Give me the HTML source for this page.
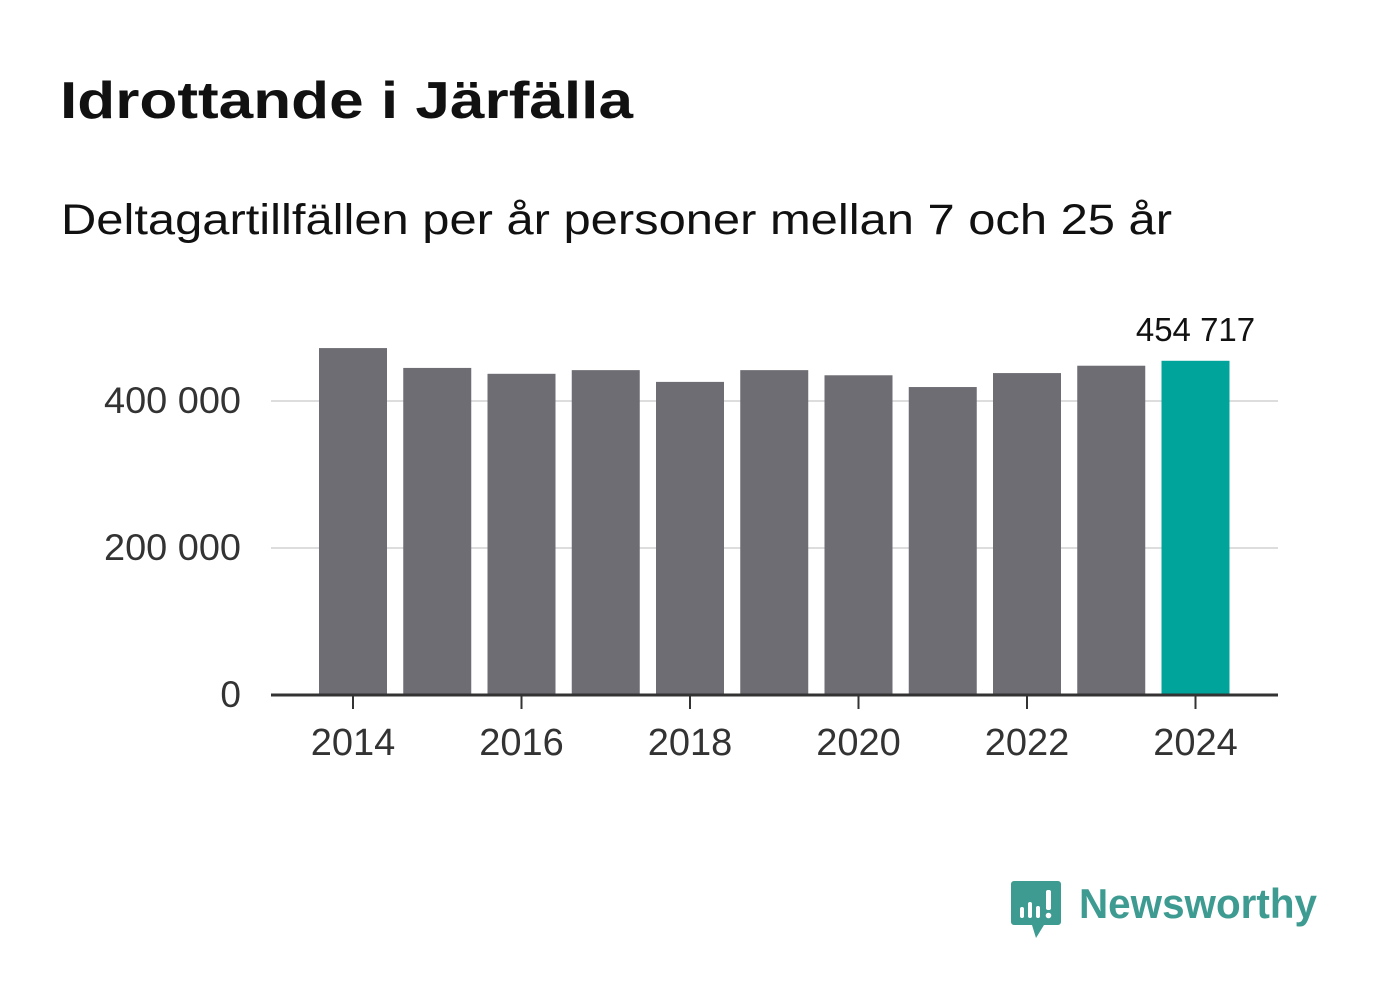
<!DOCTYPE html>
<html><head><meta charset="utf-8"><style>
html,body{margin:0;padding:0;background:#fff;}
svg{display:block;font-family:"Liberation Sans",sans-serif;}
</style></head><body>
<svg id="chart" width="1382" height="999">
<text x="60" y="118" font-size="52" font-weight="bold" fill="#111" textLength="573" lengthAdjust="spacingAndGlyphs">Idrottande i Järfälla</text>
<text x="61" y="234" font-size="43" fill="#111" textLength="1111" lengthAdjust="spacingAndGlyphs">Deltagartillfällen per år personer mellan 7 och 25 år</text>
<g id="grid"></g><g id="bars"></g><g id="axes"></g>
<g>
<path d="M1014 881 h44 a3 3 0 0 1 3 3 v38 a3 3 0 0 1 -3 3 h-14 l-8 13 l-4 -13 h-18 a3 3 0 0 1 -3 -3 v-38 a3 3 0 0 1 3 -3z" fill="#3e9b92"/>
<rect x="1020" y="907" width="4" height="11" rx="2" fill="#fff"/><rect x="1028" y="902" width="4" height="16" rx="2" fill="#fff"/><rect x="1036" y="906" width="4" height="12" rx="2" fill="#fff"/><rect x="1046" y="890" width="5" height="20" rx="2" fill="#fff"/><circle cx="1048.5" cy="915.5" r="2.8" fill="#fff"/>
<text x="1079" y="918" font-size="42" font-weight="bold" fill="#3e9b92" textLength="238" lengthAdjust="spacingAndGlyphs">Newsworthy</text>
</g>
</svg>
<script>
const years=[2014,2015,2016,2017,2018,2019,2020,2021,2022,2023,2024];
const values=[472000,445000,437000,442000,426000,442000,435000,419000,438000,448000,454717];
const yTicks=[0,200000,400000];
const yTickLabels=["0","200 000","400 000"];
const xTickYears=[2014,2016,2018,2020,2022,2024];
const NS="http://www.w3.org/2000/svg";
const y=v=>695-v*(294/400000);
const x=yr=>353+(yr-2014)*84.25;
function mk(tag,attrs,parent,txt){const e=document.createElementNS(NS,tag);for(const k in attrs)e.setAttribute(k,attrs[k]);if(txt!=null)e.textContent=txt;document.getElementById(parent).appendChild(e);return e;}
yTicks.forEach((t,i)=>{
 if(t>0){const l=mk('line',{x1:271,x2:1278,y1:y(t),y2:y(t),stroke:'#dddddd','stroke-width':2},'grid');
 
 }
 const a={x:241,y:y(t)+12,'font-size':37,fill:'#333','text-anchor':'end'};
 if(t>0){a.textLength=137;a.lengthAdjust='spacingAndGlyphs';}
 const tx=mk('text',a,'axes',yTickLabels[i]);
 
 
});
years.forEach((yr,i)=>{
 const last=i===years.length-1;
 const r=mk('rect',{x:x(yr)-34,y:y(values[i]),width:68,height:695-y(values[i]),fill:last?'#00a49a':'#6e6d74'},'bars');
 
 
 if(last){const lb=mk('text',{x:x(yr),y:y(values[i])-20,'font-size':33,fill:'#111','text-anchor':'middle'},'bars',values[i].toLocaleString('sv-SE').replace(/\s/g,' '));
 
 }
});
const ax=mk('line',{x1:271,x2:1278,y1:695,y2:695,stroke:'#333','stroke-width':3},'axes');


xTickYears.forEach(yr=>{
 const tk=mk('line',{x1:x(yr),x2:x(yr),y1:695,y2:709,stroke:'#333','stroke-width':2},'axes');
 
 
 const t=mk('text',{x:x(yr),y:755,'font-size':38,fill:'#333','text-anchor':'middle'},'axes',String(yr));
 
 
});
</script>
</body></html>
